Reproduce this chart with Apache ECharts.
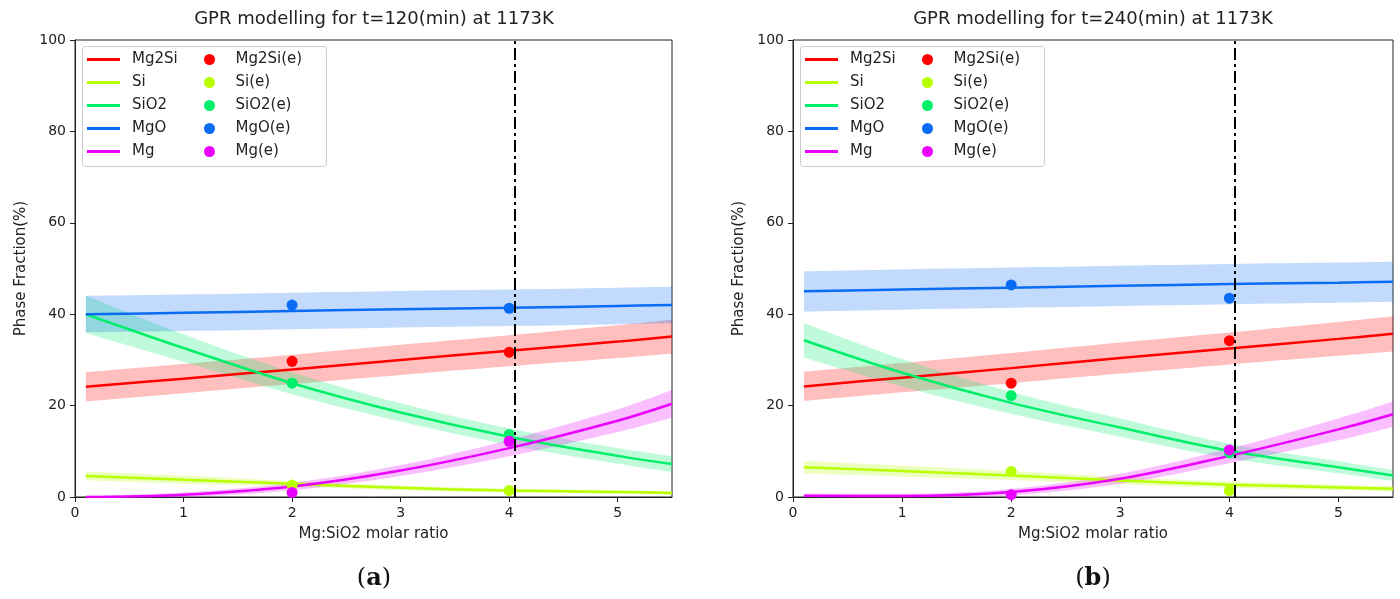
<!DOCTYPE html>
<html>
<head>
<meta charset="utf-8">
<script src="https://cdn.jsdelivr.net/npm/echarts@6/dist/echarts.min.js"></script>
<style>
  html, body { margin: 0; background: #fff; }
  #chart { width: 1400px; height: 599px; }
</style>
</head>
<body>
<div id="chart"></div>
<script>
// x positions of the GPR curves and of the measured points
const ratioGrid = [0.1, 1, 2, 3, 4, 5, 5.5];
const expRatios = [2, 4];
const refRatio = 4.05;
const phaseNames = ['Mg2Si', 'Si', 'SiO2', 'MgO', 'Mg'];
const xTicks = [0, 1, 2, 3, 4, 5];
const yTicks = [0, 20, 40, 60, 80, 100];

// t = 120 min : GPR mean, half band width, measured
const fit120Mg2Si = [24.1, 25.9, 27.9, 30.0, 32.0, 34.0, 35.1];
const fit120Si = [4.6, 3.8, 2.9, 2.0, 1.4, 1.1, 0.9];
const fit120SiO2 = [40.0, 32.6, 24.9, 18.5, 13.2, 9.0, 7.2];
const fit120MgO = [40.0, 40.3, 40.7, 41.1, 41.4, 41.8, 42.0];
const fit120Mg = [0.0, 0.5, 2.3, 5.8, 10.7, 16.7, 20.4];
const band120Mg2Si = [3.2, 3.2, 3.2, 3.3, 3.4, 3.6, 3.7];
const band120Si = [1.0, 0.9, 0.6, 0.5, 0.4, 0.4, 0.4];
const band120SiO2 = [4.1, 3.0, 2.4, 2.0, 1.8, 1.7, 1.7];
const band120MgO = [4.0, 4.0, 4.0, 4.0, 4.0, 4.0, 4.0];
const band120Mg = [0.3, 0.5, 0.8, 1.2, 1.8, 2.5, 3.0];
const exp120Mg2Si = [29.7, 31.7];
const exp120Si = [2.6, 1.4];
const exp120SiO2 = [24.9, 13.7];
const exp120MgO = [42.0, 41.3];
const exp120Mg = [1.0, 12.2];

// t = 240 min
const fit240Mg2Si = [24.2, 26.1, 28.2, 30.4, 32.5, 34.6, 35.7];
const fit240Si = [6.5, 5.7, 4.7, 3.6, 2.7, 2.1, 1.8];
const fit240SiO2 = [34.3, 27.2, 20.6, 15.2, 10.1, 6.5, 4.7];
const fit240MgO = [45.0, 45.4, 45.8, 46.2, 46.6, 46.9, 47.1];
const fit240Mg = [0.3, 0.2, 1.1, 4.0, 9.0, 14.8, 18.1];
const band240Mg2Si = [3.2, 3.2, 3.3, 3.4, 3.5, 3.7, 3.85];
const band240Si = [1.4, 1.2, 1.0, 0.8, 0.7, 0.6, 0.6];
const band240SiO2 = [3.8, 3.0, 2.4, 2.0, 1.6, 1.3, 1.2];
const band240MgO = [4.4, 4.4, 4.4, 4.4, 4.4, 4.4, 4.4];
const band240Mg = [0.4, 0.5, 0.7, 1.1, 1.6, 2.4, 2.8];
const exp240Mg2Si = [24.9, 34.2];
const exp240Si = [5.6, 1.4];
const exp240SiO2 = [22.2, 9.7];
const exp240MgO = [46.4, 43.5];
const exp240Mg = [0.5, 10.3];

const phaseColors = ['#ff0000', '#b8ff00', '#00ef6a', '#0a6cf2', '#ea00ff'];
const FONT = '"DejaVu Sans", sans-serif';
const INK = '#222';

const chart = echarts.init(document.getElementById('chart'));

function phaseSeries(gi, tag, fits, bands, exps) {
  const out = [];
  phaseNames.forEach((name, i) => {
    const color = phaseColors[i];
    const stackId = tag + '-' + name;
    // band = invisible lower edge + thickness stacked on it.
    // value goes first in each row so the stack runs along y.
    const common = {
      type: 'line', xAxisIndex: gi, yAxisIndex: gi, encode: { x: 1, y: 0 },
      stack: stackId, stackStrategy: 'all', smooth: 0.35, symbol: 'none', silent: true,
      lineStyle: { width: 0, opacity: 0 }, z: 1, color
    };
    out.push(Object.assign({}, common, {
      name: name + ' lo ' + tag,
      data: ratioGrid.map((x, k) => [fits[i][k] - bands[i][k], x])
    }));
    out.push(Object.assign({}, common, {
      name: name + ' hi ' + tag,
      areaStyle: { color, opacity: 0.25 },
      data: ratioGrid.map((x, k) => [2 * bands[i][k], x])
    }));
  });
  phaseNames.forEach((name, i) => {
    const s = {
      type: 'line', name, xAxisIndex: gi, yAxisIndex: gi, smooth: 0.35,
      symbol: 'none', color: phaseColors[i], lineStyle: { width: 2.5 }, z: 3,
      data: ratioGrid.map((x, k) => [x, fits[i][k]])
    };
    if (i === phaseNames.length - 1) {
      s.markLine = {
        silent: true, symbol: ['none', 'none'], label: { show: false },
        lineStyle: { color: '#000', width: 2, type: [12, 4, 3, 4] },
        data: [{ xAxis: refRatio }]
      };
    }
    out.push(s);
  });
  phaseNames.forEach((name, i) => {
    out.push({
      type: 'scatter', name: name + '(e)', xAxisIndex: gi, yAxisIndex: gi,
      symbolSize: 11, color: phaseColors[i], itemStyle: { opacity: 1 }, z: 4,
      data: expRatios.map((x, k) => [x, exps[i][k]])
    });
  });
  return out;
}

function xAxis(gi) {
  return {
    type: 'value', gridIndex: gi, min: xTicks[0], max: 5.5, interval: 1,
    name: 'Mg:SiO2 molar ratio', nameLocation: 'middle', nameGap: 30,
    nameTextStyle: { fontSize: 15, color: INK, fontFamily: FONT },
    axisLine: { show: true, onZero: false, lineStyle: { color: INK, width: 1 } },
    axisTick: { show: true, inside: false, length: 5, lineStyle: { color: INK } },
    axisLabel: { fontSize: 14, color: INK, fontFamily: FONT, margin: 9, showMaxLabel: false },
    splitLine: { show: false }
  };
}

function yAxis(gi) {
  return {
    type: 'value', gridIndex: gi, min: yTicks[0], max: yTicks[yTicks.length - 1], interval: 20,
    name: 'Phase Fraction(%)', nameLocation: 'middle', nameGap: 46, nameRotate: 90,
    nameTextStyle: { fontSize: 15, color: INK, fontFamily: FONT },
    axisLine: { show: true, onZero: false, lineStyle: { color: INK, width: 1 } },
    axisTick: { show: true, inside: false, length: 5, lineStyle: { color: INK } },
    axisLabel: { fontSize: 14, color: INK, fontFamily: FONT, margin: 9 },
    splitLine: { show: false }
  };
}

function legends(dx) {
  const base = {
    orient: 'vertical', top: 52, padding: 0, itemGap: 8, selectedMode: false,
    textStyle: { fontSize: 15, color: INK, fontFamily: FONT }
  };
  return [
    Object.assign({}, base, {
      left: 87 + dx, icon: 'rect', itemWidth: 33, itemHeight: 3,
      textStyle: { fontSize: 15, color: INK, fontFamily: FONT, padding: [0, 0, 0, 7] },
      data: phaseNames
    }),
    Object.assign({}, base, {
      left: 204 + dx, icon: 'circle', itemWidth: 42, itemHeight: 11,
      itemStyle: { opacity: 1 },
      data: phaseNames.map(n => n + '(e)')
    })
  ];
}

function panelGraphics(cx, dx, title, letter) {
  return [
    {
      type: 'rect', z: 3, silent: true,
      shape: { x: 82.5 + dx, y: 46.5, width: 244, height: 120, r: 3 },
      style: { fill: 'rgba(255,255,255,0.8)', stroke: '#cccccc', lineWidth: 1 }
    },
    {
      type: 'text', x: cx, y: 19, silent: true,
      style: { text: title, fontSize: 18, fontFamily: FONT, fill: INK, align: 'center', verticalAlign: 'middle' }
    },
    {
      type: 'text', x: cx, y: 579, silent: true,
      style: {
        text: '{p|(}{b|' + letter + '}{p|)}', align: 'center', verticalAlign: 'middle',
        rich: {
          p: { fontSize: 24, fontFamily: '"DejaVu Serif", serif', fill: '#111' },
          b: { fontSize: 24, fontWeight: 'bold', fontFamily: '"DejaVu Serif", serif', fill: '#111' }
        }
      }
    }
  ];
}

const fits120 = [fit120Mg2Si, fit120Si, fit120SiO2, fit120MgO, fit120Mg];
const bands120 = [band120Mg2Si, band120Si, band120SiO2, band120MgO, band120Mg];
const exps120 = [exp120Mg2Si, exp120Si, exp120SiO2, exp120MgO, exp120Mg];
const fits240 = [fit240Mg2Si, fit240Si, fit240SiO2, fit240MgO, fit240Mg];
const bands240 = [band240Mg2Si, band240Si, band240SiO2, band240MgO, band240Mg];
const exps240 = [exp240Mg2Si, exp240Si, exp240SiO2, exp240MgO, exp240Mg];

chart.setOption({
  animation: false,
  backgroundColor: '#fff',
  textStyle: { fontFamily: FONT },
  grid: [
    { left: 75, top: 40, width: 597, height: 457, show: true, borderColor: INK, borderWidth: 1, outerBoundsMode: 'none' },
    { left: 793, top: 40, width: 600, height: 457, show: true, borderColor: INK, borderWidth: 1, outerBoundsMode: 'none' }
  ],
  xAxis: [xAxis(0), xAxis(1)],
  yAxis: [yAxis(0), yAxis(1)],
  legend: legends(0).concat(legends(718)),
  graphic: panelGraphics(374, 0, 'GPR modelling for t=120(min) at 1173K', 'a')
    .concat(panelGraphics(1093, 718, 'GPR modelling for t=240(min) at 1173K', 'b')),
  series: phaseSeries(0, 'A', fits120, bands120, exps120)
    .concat(phaseSeries(1, 'B', fits240, bands240, exps240))
});
</script>
</body>
</html>
